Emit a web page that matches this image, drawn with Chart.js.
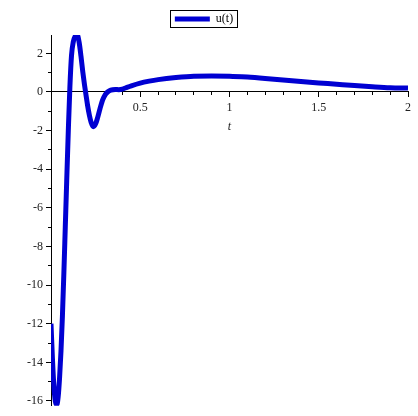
<!DOCTYPE html>
<html>
<head>
<meta charset="utf-8">
<script src="https://cdn.jsdelivr.net/npm/chart.js@4/dist/chart.umd.min.js"></script>
<style>
  html, body { margin: 0; padding: 0; background: #fff; }
  #wrap { width: 418px; height: 416px; }
</style>
</head>
<body>
<div id="wrap"><canvas id="uChart" width="418" height="416"></canvas></div>
<script>
// u(t)
const tValues = [0, 0.008, 0.016, 0.024, 0.032, 0.040, 0.048, 0.056, 0.064, 0.072, 0.080, 0.088, 0.097,
    0.106, 0.115, 0.125, 0.135, 0.147, 0.158, 0.168, 0.178, 0.188, 0.196, 0.205, 0.215, 0.225, 0.237,
    0.250, 0.262, 0.275, 0.290, 0.305, 0.317, 0.335, 0.36, 0.38, 0.40, 0.42, 0.45, 0.50, 0.55, 0.60,
    0.70, 0.80, 0.90, 1.00, 1.10, 1.20, 1.30, 1.40, 1.50, 1.60, 1.70, 1.80, 1.90, 2.00];
const uValues = [-12, -13.8, -15.2, -16.0, -16.2, -15.8, -14.8, -13.4, -11.6, -9.4, -7.0, -4.6, -2.0,
    0.3, 1.9, 2.6, 2.88, 2.95, 2.55, 1.85, 1.05, 0.35, -0.15, -0.7, -1.2, -1.58, -1.8,
    -1.65, -1.3, -0.85, -0.4, -0.12, 0, 0.1, 0.13, 0.12, 0.15, 0.22, 0.32, 0.46, 0.56, 0.64,
    0.75, 0.82, 0.83, 0.82, 0.77, 0.70, 0.62, 0.54, 0.47, 0.40, 0.33, 0.27, 0.22, 0.20];
const xLabelTicks = [0.5, 1, 1.5, 2];
const yLabelTicks = [2, 0, -2, -4, -6, -8, -10, -12, -14, -16];

const lineColor = 'rgb(0, 0, 210)';
const serif = { family: '"Liberation Serif", "Times New Roman", serif', size: 12 };

// frame around the legend, like the original
const legendFrame = {
    id: 'legendFrame',
    afterDraw(chart) {
        const box = chart.legend.legendHitBoxes[0];
        if (!box) return;
        const ctx = chart.ctx;
        ctx.save();
        ctx.strokeStyle = '#000';
        ctx.lineWidth = 1;
        ctx.strokeRect(Math.round(box.left - 5) + 0.5, Math.round(box.top - 3) + 0.5,
            Math.round(box.width + 9), Math.round(box.height + 5));
        ctx.restore();
    },
};

const xRange = { min: 0, max: 2 };
const yRange = { min: -16.25, max: 2.95 };

new Chart(document.getElementById('uChart'), {
    type: 'line',
    data: {
        datasets: [{
            label: 'u(t)',
            data: tValues.map((t, i) => ({ x: t, y: uValues[i] })),
            borderColor: lineColor,
            backgroundColor: lineColor,
            borderWidth: 5,
            pointRadius: 0,
            pointStyle: 'line',
            cubicInterpolationMode: 'monotone',
            xAxisID: 'x',
            yAxisID: 'y',
        }],
    },
    options: {
        responsive: false,
        animation: false,
        layout: { padding: { left: 0, right: 10, top: 5, bottom: 3 } },
        plugins: {
            tooltip: { enabled: false },
            legend: {
                position: 'top',
                labels: {
                    usePointStyle: true,
                    pointStyleWidth: 35,
                    padding: 8,
                    color: '#000',
                    font: serif,
                },
            },
        },
        scales: {
            x: {
                type: 'linear',
                position: { y: 0 },
                ...xRange,
                grid: { drawOnChartArea: false, tickLength: 5, color: '#000' },
                border: { color: '#000' },
                ticks: {
                    stepSize: 0.5,
                    autoSkip: false,
                    maxRotation: 0,
                    padding: 4,
                    color: '#222',
                    font: serif,
                    callback: (v) => (xLabelTicks.includes(v) ? String(v) : ''),
                },
                title: {
                    display: true,
                    text: 't',
                    color: '#222',
                    font: { ...serif, style: 'italic' },
                    padding: { top: 0, bottom: 0 },
                },
            },
            xMinor: {
                type: 'linear',
                axis: 'x',
                position: { y: 0 },
                ...xRange,
                grid: { drawOnChartArea: false, tickLength: 3, color: '#000' },
                border: { color: '#000' },
                ticks: { stepSize: 0.1, autoSkip: false, display: false },
            },
            y: {
                type: 'linear',
                position: 'left',
                ...yRange,
                afterFit: (s) => { s.width = 51; },
                grid: { drawOnChartArea: false, tickLength: 5, color: '#000' },
                border: { color: '#000' },
                ticks: {
                    stepSize: 2,
                    includeBounds: false,
                    autoSkip: false,
                    padding: 3,
                    color: '#222',
                    font: serif,
                    callback: (v) => (yLabelTicks.includes(v) ? String(v) : ''),
                },
            },
            yMinor: {
                type: 'linear',
                axis: 'y',
                position: { x: 0 },
                ...yRange,
                grid: { drawOnChartArea: false, tickLength: 3, color: '#000' },
                border: { color: '#000' },
                ticks: { stepSize: 1, includeBounds: false, autoSkip: false, display: false },
            },
        },
    },
    plugins: [legendFrame],
});
</script>
</body>
</html>
